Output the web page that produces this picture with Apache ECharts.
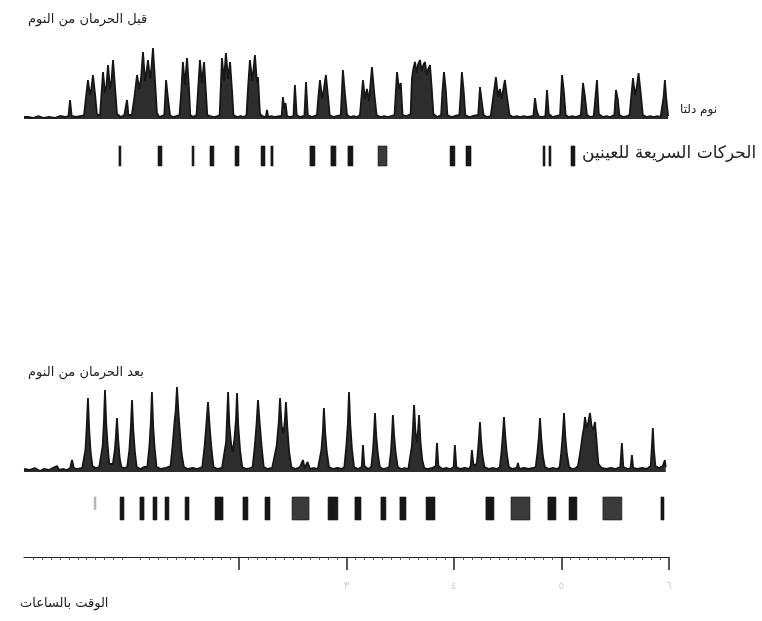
<!DOCTYPE html>
<html>
<head>
<meta charset="utf-8">
<script src="https://cdn.jsdelivr.net/npm/echarts@6/dist/echarts.min.js"></script>
<style>
  html, body { margin: 0; padding: 0; background: #fff; }
  #chart { width: 762px; height: 621px; }
</style>
</head>
<body>
<div id="chart"></div>
<script>
// time in minutes from start of night, amplitude in arbitrary units
const topDelta = [
  [0,2],[2.2,2],[5,1],[8,3],[11,1],[14,2],[17,1],[20,3],[23,2],
  [24.8,3],[25.7,19],[26.6,3],[29,2],[32,3],
  [33.5,4],[34.6,22],[35.7,39],[36.8,24],[37.6,30],[38.5,44],[39.6,26],[40.7,5],[42.4,3],
  [43.2,4],[44.1,47],[45.2,26],[46.0,33],[46.9,54],[48.0,30],[48.8,38],[49.7,59],[50.8,32],[51.9,5],
  [54,2],[56,4],[56.8,3],[57.5,19],[58.3,4],
  [60.2,4],[61.5,20],[63.1,44],[64.3,30],[65.3,40],[66.4,67],[67.6,38],[68.3,46],[69.2,59],[70.4,40],[71.1,50],[72.0,71],[73.2,36],[74.2,6],
  [75.5,2],[78.3,4],[79.3,39],[80.4,20],[81.5,4],[83,2],[85,3],
  [86.8,4],[87.8,28],[88.7,57],[89.8,34],[91.0,61],[92.1,30],[92.8,4],[94.3,2],
  [96.3,4],[97.2,30],[98.2,59],[99.3,36],[100.5,57],[101.5,28],[102.3,4],
  [104,3],[106,2],[108,3],
  [109.2,4],[110.5,61],[111.6,38],[112.7,66],[113.9,40],[115.0,57],[116.2,26],[116.9,4],
  [119,2],[121,3],[123,2],
  [124.2,4],[125.0,30],[126.1,59],[127.4,38],[128.9,64],[130.0,36],[130.6,42],[131.7,5],
  [133,3],[135.0,2],[135.6,9],[136.3,2],[138,3],[140,2],
  [143.8,3],[144.5,22],[145.3,10],[146.0,16],[146.8,3],[148.5,2],
  [150.4,3],[151.2,34],[152.2,4],[154,2],
  [156.5,3],[157.4,37],[158.4,4],[160.5,2],[162,3],
  [163.5,4],[164.3,22],[165.2,39],[166.4,20],[167.4,30],[168.5,44],[169.7,22],[170.6,4],
  [172.5,2],[174.5,3],
  [176.8,4],[178.0,49],[179.2,24],[180.3,4],[182,2],[184,3],[186,2],
  [187.5,4],[189.2,39],[190.3,20],[191.4,30],[192.6,18],[194.2,52],[195.6,24],[196.8,4],
  [199,2],[201,3],[203,2],
  [206.8,4],[207.5,26],[208.2,47],[209.3,30],[210.3,36],[211.3,4],[213.5,3],
  [215.8,5],[216.5,40],[217.3,50],[218.2,57],[219.2,46],[220.0,55],[221.0,59],[222.0,48],[222.9,54],[223.8,57],[224.8,44],[225.6,50],[226.6,54],[227.6,30],[228.5,5],
  [230.5,2],
  [232.8,4],[233.5,26],[234.4,47],[235.4,30],[236.3,4],[238.5,2],[240.5,3],
  [243.0,4],[243.7,24],[244.4,47],[245.4,28],[246.3,4],[248.5,2],[250.5,3],
  [253.5,4],[254.5,32],[255.6,16],[256.5,4],[258.5,2],[260.5,3],
  [261.6,4],[263.4,42],[264.6,22],[265.6,30],[266.6,20],[268.4,39],[269.6,22],[271.0,4],
  [273,2],[275,3],[277,2],[279,3],[281,2],
  [284.3,3],[285.2,21],[286.2,8],[287.2,3],[289,2],
  [291.0,3],[291.9,29],[292.9,5],[295,2],[297,3],
  [299.2,4],[300.3,44],[301.4,26],[302.3,4],[304,2],[306,3],[308,2],
  [310.8,4],[312.0,36],[313.1,22],[314.2,4],[316,2],[318,3],
  [319.0,3],[319.8,39],[320.8,5],[323,2],[325,3],[327,2],
  [329.5,4],[330.4,29],[331.4,20],[332.3,4],[334.5,2],[336.5,3],
  [338.0,4],[339.9,41],[341.0,24],[342.0,32],[343.0,46],[344.2,26],[345.4,4],
  [347.5,2],[349.5,3],[351.5,2],[353.5,3],[355.3,2],
  [356.4,4],[357.0,22],[357.7,39],[358.5,20],[359.5,3]
];

const bottomDelta = [
  [0,3],[3,2],[6,4],[8.9,1],[11,3],[14,2],[16,4],[18.4,6],[19.5,2],[22,3],[24,2],[25.8,4],[26.8,12],[27.8,4],[30,3],[32.5,4],
  [33.2,5],[34.3,22],[35.0,45],[35.7,74],[36.4,42],[37.2,20],[38.2,6],[40,4],[42,5],
  [42.8,6],[43.9,26],[44.6,50],[45.2,82],[45.9,48],[46.7,26],[47.6,8],
  [49.6,8],[50.7,22],[51.3,36],[51.9,54],[52.6,32],[53.4,14],[54.3,5],[56,4],
  [57.6,5],[58.8,22],[59.6,44],[60.3,72],[61.0,42],[61.9,20],[62.9,5],[65,3],[67,5],
  [68.8,5],[70.0,26],[70.8,50],[71.4,80],[72.1,46],[72.9,24],[74.0,5],[76.5,3],[79,4],
  [81.8,6],[83.0,28],[84.0,50],[84.7,62],[85.4,85],[86.2,60],[87.0,40],[88.0,18],[89.2,5],
  [91.5,3],[94,4],[96.5,3],
  [99.5,5],[100.8,26],[101.8,48],[102.7,70],[103.6,46],[104.6,24],[105.8,5],[108,3],[110.5,4],
  [111.6,5],[112.8,30],[113.3,52],[113.9,80],[114.6,48],[115.6,28],[116.5,20],[117.5,34],[118.3,52],[118.9,79],[119.6,46],[120.6,22],[121.8,5],
  [124,3],[126.2,4],
  [127.6,5],[128.8,26],[129.8,48],[130.6,72],[131.5,50],[132.6,26],[133.8,5],[136,3],[138.5,4],
  [139.6,5],[141.0,26],[142.2,50],[142.9,74],[143.8,46],[144.8,38],[145.6,52],[146.2,70],[147.0,44],[148.0,20],[149.2,5],
  [151.5,3],[154,5],[155.7,12],[156.6,4],[158.3,10],[159.6,3],[162,4],[164,3],
  [164.8,5],[166.0,22],[166.8,40],[167.4,64],[168.1,40],[169.0,20],[170.2,5],[172.5,3],[175,4],[177.5,3],
  [178.8,5],[180.0,28],[180.8,50],[181.4,80],[182.1,48],[183.0,24],[184.2,5],
  [186.5,3],[188.5,5],[189.2,27],[190.0,6],[192,3],
  [193.8,5],[194.8,22],[195.4,40],[195.9,59],[196.6,36],[197.5,18],[198.6,5],[200.5,3],[202.5,4],
  [203.8,5],[204.8,20],[205.4,38],[205.9,57],[206.6,36],[207.5,18],[208.6,5],[210.5,3],[212.5,4],[214.5,3],
  [215.4,5],[216.5,26],[217.1,44],[217.7,67],[218.5,40],[219.3,30],[219.9,40],[220.5,57],[221.3,30],[222.3,12],[223.4,4],
  [225.5,3],[228,4],[229.8,6],[230.5,29],[231.3,6],[233.5,3],[236,4],[238,3],[239.8,5],[240.5,27],[241.3,5],
  [243.5,3],[246,4],[248.5,3],[249.3,6],[250.0,22],[250.8,8],[252,6],
  [252.8,10],[253.6,26],[254.0,36],[254.5,50],[255.1,32],[255.9,16],[257,5],[259.5,3],[262,4],[264,3],
  [265.6,5],[266.6,22],[267.3,38],[267.9,55],[268.6,36],[269.5,18],[270.6,5],
  [272.5,3],[275.0,4],[275.7,9],[276.4,3],[279,4],[281.5,3],[284,4],
  [285.6,5],[286.6,20],[287.4,36],[288.0,54],[288.7,34],[289.6,16],[290.7,5],[293,3],[295.5,4],[297.8,3],
  [299,5],[300.0,22],[300.8,40],[301.4,59],[302.1,36],[303.0,18],[304.2,5],[306,3],[308,4],
  [309.2,6],[310.5,20],[311.7,36],[312.5,44],[313.1,55],[314.0,44],[315.0,50],[315.9,59],[316.8,46],[317.8,42],[318.7,50],[319.6,30],[320.6,8],
  [322.5,4],[325,3],[327.5,4],[330,3],[332.8,5],[333.7,29],[334.5,5],[337,3],[338.6,4],[339.3,17],[340,4],
  [342.5,3],[345,4],[347.5,3],[349.8,6],[350.4,24],[351.0,44],[351.6,22],[352.4,6],[354.5,4],[356.5,6],[357.7,12],[358.2,5]
];

// REM episodes: [start, end, kind]  kind 0 = solid, 1 = dense block, 2 = faint
const topRem = [
  [53.0,54.1,0],[74.8,77.0,0],[93.8,94.9,0],[103.8,106.0,0],[117.8,120.0,0],
  [132.3,134.5,0],[137.8,139.0,0],[159.6,162.4,0],[171.3,174.1,0],[180.8,183.6,0],
  [197.6,202.6,1],[237.8,240.5,0],[246.7,249.5,0],[289.7,290.8,0],[293.0,294.1,0],[305.3,307.5,0]
];

const bottomRem = [
  [39.1,40.2,2],[53.6,55.8,0],[64.7,67.0,0],[72.0,74.2,0],[78.7,80.9,0],[89.9,92.1,0],
  [106.6,111.1,0],[122.2,125.0,0],[134.5,137.3,0],[149.6,159.1,1],[169.7,175.2,0],
  [184.7,188.1,0],[199.2,202.0,0],[209.8,213.2,0],[224.4,229.4,0],[257.8,262.3,0],
  [271.8,282.4,1],[292.4,296.9,0],[304.2,308.6,0],[323.1,333.7,1],[355.5,357.2,0]
];

const hourTicks = [120, 180, 240, 300, 360];
const hourLabels = [180, 240, 300, 360];
const arabicDigits = ['٠','١','٢','٣','٤','٥','٦','٧','٨','٩'];

const ink = '#161616';
const fontAr = "'DejaVu Sans', 'Noto Sans', sans-serif";

function remItem(params, api) {
  const start = api.coord([api.value(0), 1]);
  const end = api.coord([api.value(1), 0]);
  const kind = api.value(2);
  let y = start[1], h = end[1] - start[1];
  let fill = ink, stroke = ink;
  if (kind === 1) { fill = '#3a3a3a'; }
  if (kind === 2) { fill = '#b5b5b5'; stroke = '#b5b5b5'; h = h * 0.55; }
  return {
    type: 'rect',
    shape: { x: start[0], y: y, width: Math.max(end[0] - start[0], 1.5), height: h },
    style: { fill: fill, stroke: stroke, lineWidth: 0.6 }
  };
}

const chart = echarts.init(document.getElementById('chart'), null, { renderer: 'canvas' });

const xBase = { type: 'value', min: 0, max: 360, show: false };
const grids = [
  { left: 24, width: 645, top: 39, height: 80 },
  { left: 24, width: 645, top: 146, height: 20 },
  { left: 24, width: 645, top: 382, height: 90 },
  { left: 24, width: 645, top: 497, height: 23 },
  { left: 24, width: 645, top: 556, height: 1 }
];

chart.setOption({
  animation: false,
  backgroundColor: '#fff',
  grid: grids,
  xAxis: [
    Object.assign({ gridIndex: 0 }, xBase),
    Object.assign({ gridIndex: 1 }, xBase),
    Object.assign({ gridIndex: 2 }, xBase),
    Object.assign({ gridIndex: 3 }, xBase),
    {
      gridIndex: 4, type: 'value', min: 0, max: 360, interval: 60, position: 'bottom',
      axisLine: { show: true, lineStyle: { color: '#222', width: 1.2 } },
      axisTick: { show: true, customValues: hourTicks, length: 13, lineStyle: { color: '#222', width: 1.5 } },
      minorTick: { show: true, splitNumber: 12, length: 3, lineStyle: { color: '#555', width: 1 } },
      splitLine: { show: false },
      axisLabel: {
        show: true, customValues: hourLabels, margin: 24, fontSize: 11, color: '#d4d4d4',
        fontFamily: fontAr,
        formatter: v => arabicDigits[Math.round(v / 60)]
      }
    }
  ],
  yAxis: [
    { gridIndex: 0, type: 'value', min: 0, max: 80, show: false },
    { gridIndex: 1, type: 'value', min: 0, max: 1, show: false },
    { gridIndex: 2, type: 'value', min: 0, max: 90, show: false },
    { gridIndex: 3, type: 'value', min: 0, max: 1, show: false },
    { gridIndex: 4, type: 'value', min: 0, max: 1, show: false }
  ],
  series: [
    {
      type: 'line', xAxisIndex: 0, yAxisIndex: 0, data: topDelta,
      showSymbol: false, smooth: false,
      lineStyle: { color: ink, width: 1.8 },
      areaStyle: { color: ink, opacity: 0.9 }
    },
    {
      type: 'custom', xAxisIndex: 1, yAxisIndex: 1, data: topRem,
      renderItem: remItem
    },
    {
      type: 'line', xAxisIndex: 2, yAxisIndex: 2, data: bottomDelta,
      showSymbol: false, smooth: false,
      lineStyle: { color: ink, width: 1.8 },
      areaStyle: { color: ink, opacity: 0.9 }
    },
    {
      type: 'custom', xAxisIndex: 3, yAxisIndex: 3, data: bottomRem,
      renderItem: remItem
    }
  ],
  graphic: [
    { type: 'text', left: 28, top: 13, style: { text: 'قبل الحرمان من النوم', fontSize: 13, fontFamily: fontAr, fill: '#222' } },
    { type: 'text', left: 680, top: 104, style: { text: 'نوم دلتا', fontSize: 12, fontFamily: fontAr, fill: '#222' } },
    { type: 'text', left: 582, top: 145, style: { text: 'الحركات السريعة للعينين', fontSize: 17, fontFamily: fontAr, fill: '#222' } },
    { type: 'text', left: 28, top: 366, style: { text: 'بعد الحرمان من النوم', fontSize: 13, fontFamily: fontAr, fill: '#222' } },
    { type: 'text', left: 20, top: 597, style: { text: 'الوقت بالساعات', fontSize: 13, fontFamily: fontAr, fill: '#222' } }
  ]
});

window.addEventListener('resize', () => chart.resize());
</script>
</body>
</html>
